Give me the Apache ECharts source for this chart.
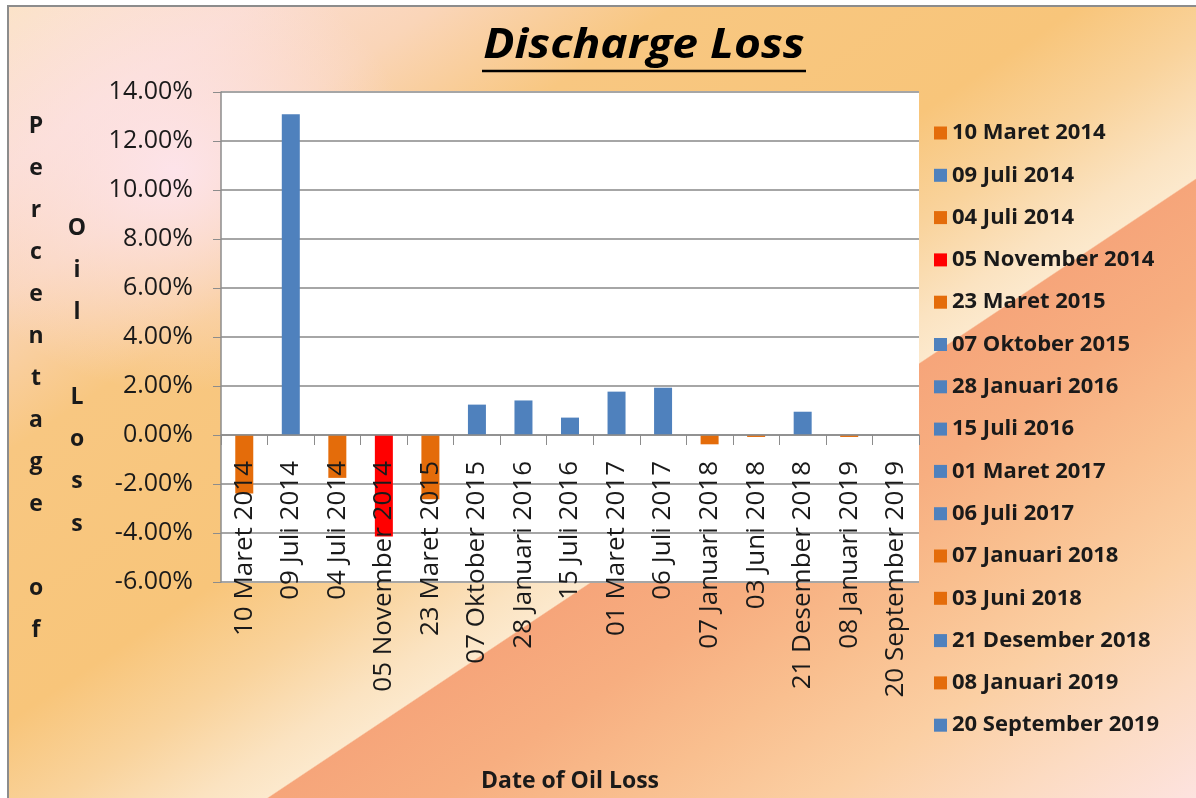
<!DOCTYPE html>
<html>
<head>
<meta charset="utf-8">
<title>Discharge Loss</title>
<script src="https://cdn.jsdelivr.net/npm/echarts@6/dist/echarts.min.js"></script>
<style>
  html, body { margin: 0; padding: 0; background: #fff; }
  .wrap { position: relative; width: 1196px; height: 798px; overflow: hidden; }
  .bg {
    position: absolute; left: 7px; top: 5px; right: -2px; bottom: -2px;
    border-left: 2px solid #8c8c8c; border-top: 2px solid #8c8c8c;
    background:
      radial-gradient(ellipse 240px 220px at 165px 165px, rgba(253, 228, 236, 0.95), rgba(253, 228, 236, 0)),
      linear-gradient(146.3deg, rgba(0, 0, 0, 0) 60.7%, #f6a57a 60.8%, #f7ae80 68%, #f9bf8f 76%, #fbcfa3 84%, #fcdbc2 92%, #fde3e0 100%),
      linear-gradient(146.3deg, #fbe3c9 0%, #fbdccf 10%, #fad5b8 18%, #f8c781 28%, #f8c57a 45%, #f9d39c 52%, #fbe3c1 58%, #fce9cd 60.8%);
  }
  #chart { position: absolute; left: 0; top: 0; width: 1196px; height: 798px; }
</style>
</head>
<body>
<div class="wrap">
  <div class="bg"></div>
  <div id="chart"></div>
</div>
<script>
  // tanggal kejadian (kategori) dan persentase kehilangan minyak
  const dates = [
    '10 Maret 2014', '09 Juli 2014', '04 Juli 2014', '05 November 2014', '23 Maret 2015',
    '07 Oktober 2015', '28 Januari 2016', '15 Juli 2016', '01 Maret 2017', '06 Juli 2017',
    '07 Januari 2018', '03 Juni 2018', '21 Desember 2018', '08 Januari 2019', '20 September 2019'
  ]
  const lossPct = [-2.39, 13.09, -1.75, -4.14, -2.62, 1.24, 1.41, 0.71, 1.77, 1.93, -0.38, -0.08, 0.95, -0.08, 0]

  const BLUE = '#4f81bd'
  const ORANGE = '#e46c0a'
  const RED = '#ff0000'
  const barColors = [ORANGE, BLUE, ORANGE, RED, ORANGE, BLUE, BLUE, BLUE, BLUE, BLUE, ORANGE, ORANGE, BLUE, ORANGE, BLUE]

  const Y_MIN = -6
  const Y_MAX = 14

  const FONT = '"Open Sans", "Liberation Sans", sans-serif'
  const TEXT = '#1a1a1a'

  const GRID = { left: 221, right: 277, top: 92, bottom: 216 }
  const plotHeight = 798 - GRID.top - GRID.bottom
  // sumbu x digeser ke garis 0% (seperti grafik Excel aslinya)
  const zeroOffset = (plotHeight * (0 - Y_MIN)) / (Y_MAX - Y_MIN)

  const myChart = echarts.init(document.getElementById('chart'), null, { renderer: 'canvas' })

  // satu series per tanggal supaya legend menampilkan tiap tanggal
  const series = dates.map((d, i) => ({
    name: d,
    type: 'bar',
    stack: 'loss',
    barWidth: 18,
    itemStyle: { color: barColors[i] },
    data: dates.map((_, j) => (j === i ? lossPct[i] : '-')),
  }))

  const option = {
    animation: false,
    backgroundColor: 'transparent',
    textStyle: { fontFamily: FONT },
    graphic: [
      {
        type: 'text',
        x: 644,
        y: 46,
        scaleX: 1.1,
        style: {
          text: 'Discharge Loss',
          font: 'italic bold 42px ' + FONT,
          fill: '#000',
          textAlign: 'center',
          textVerticalAlign: 'middle',
        },
      },
      {
        type: 'line',
        shape: { x1: 482, y1: 71, x2: 806, y2: 71 },
        style: { stroke: '#000', lineWidth: 2.5 },
      },
      {
        type: 'text',
        x: 36,
        y: 105,
        style: {
          text: 'P\ne\nr\nc\ne\nn\nt\na\ng\ne\n\no\nf',
          font: 'bold 23px ' + FONT,
          lineHeight: 42,
          fill: TEXT,
          textAlign: 'center',
          textVerticalAlign: 'top',
        },
      },
      {
        type: 'text',
        x: 77,
        y: 207,
        style: {
          text: 'O\ni\nl\n\nL\no\ns\ns',
          font: 'bold 23px ' + FONT,
          lineHeight: 42.3,
          fill: TEXT,
          textAlign: 'center',
          textVerticalAlign: 'top',
        },
      },
    ],
    legend: {
      orient: 'vertical',
      left: 934,
      top: 120,
      padding: 0,
      icon: 'rect',
      itemWidth: 13,
      itemHeight: 13,
      itemGap: 16.3,
      textStyle: {
        fontFamily: FONT,
        fontWeight: 'bold',
        fontSize: 22,
        lineHeight: 26,
        color: TEXT,
      },
      data: dates,
    },
    grid: {
      left: GRID.left,
      right: GRID.right,
      top: GRID.top,
      bottom: GRID.bottom,
      containLabel: false,
      outerBoundsMode: 'none',
      show: true,
      backgroundColor: '#fff',
      borderWidth: 0,
    },
    xAxis: {
      type: 'category',
      data: dates,
      offset: -zeroOffset,
      z: 5,
      name: 'Date of Oil Loss',
      nameLocation: 'middle',
      nameGap: 335,
      nameTextStyle: { fontFamily: FONT, fontWeight: 'bold', fontSize: 23, color: TEXT },
      axisLine: { onZero: false, lineStyle: { color: '#8c8c8c', width: 1.5 } },
      axisTick: { show: true, length: 10, lineStyle: { color: '#8c8c8c' } },
      axisLabel: {
        interval: 0,
        rotate: 90,
        margin: 26,
        fontFamily: FONT,
        fontSize: 26,
        color: TEXT,
      },
    },
    yAxis: {
      type: 'value',
      min: Y_MIN,
      max: Y_MAX,
      interval: 2,
      axisLine: { show: true, lineStyle: { color: '#8c8c8c', width: 1.5 } },
      axisTick: { show: true, length: 8, lineStyle: { color: '#8c8c8c' } },
      splitLine: { lineStyle: { color: '#a6a6a6', width: 2 } },
      axisLabel: {
        margin: 28,
        fontFamily: FONT,
        fontSize: 25,
        color: TEXT,
        formatter: (v) => v.toFixed(2) + '%',
      },
    },
    series: series,
  }

  myChart.setOption(option)
</script>
</body>
</html>
